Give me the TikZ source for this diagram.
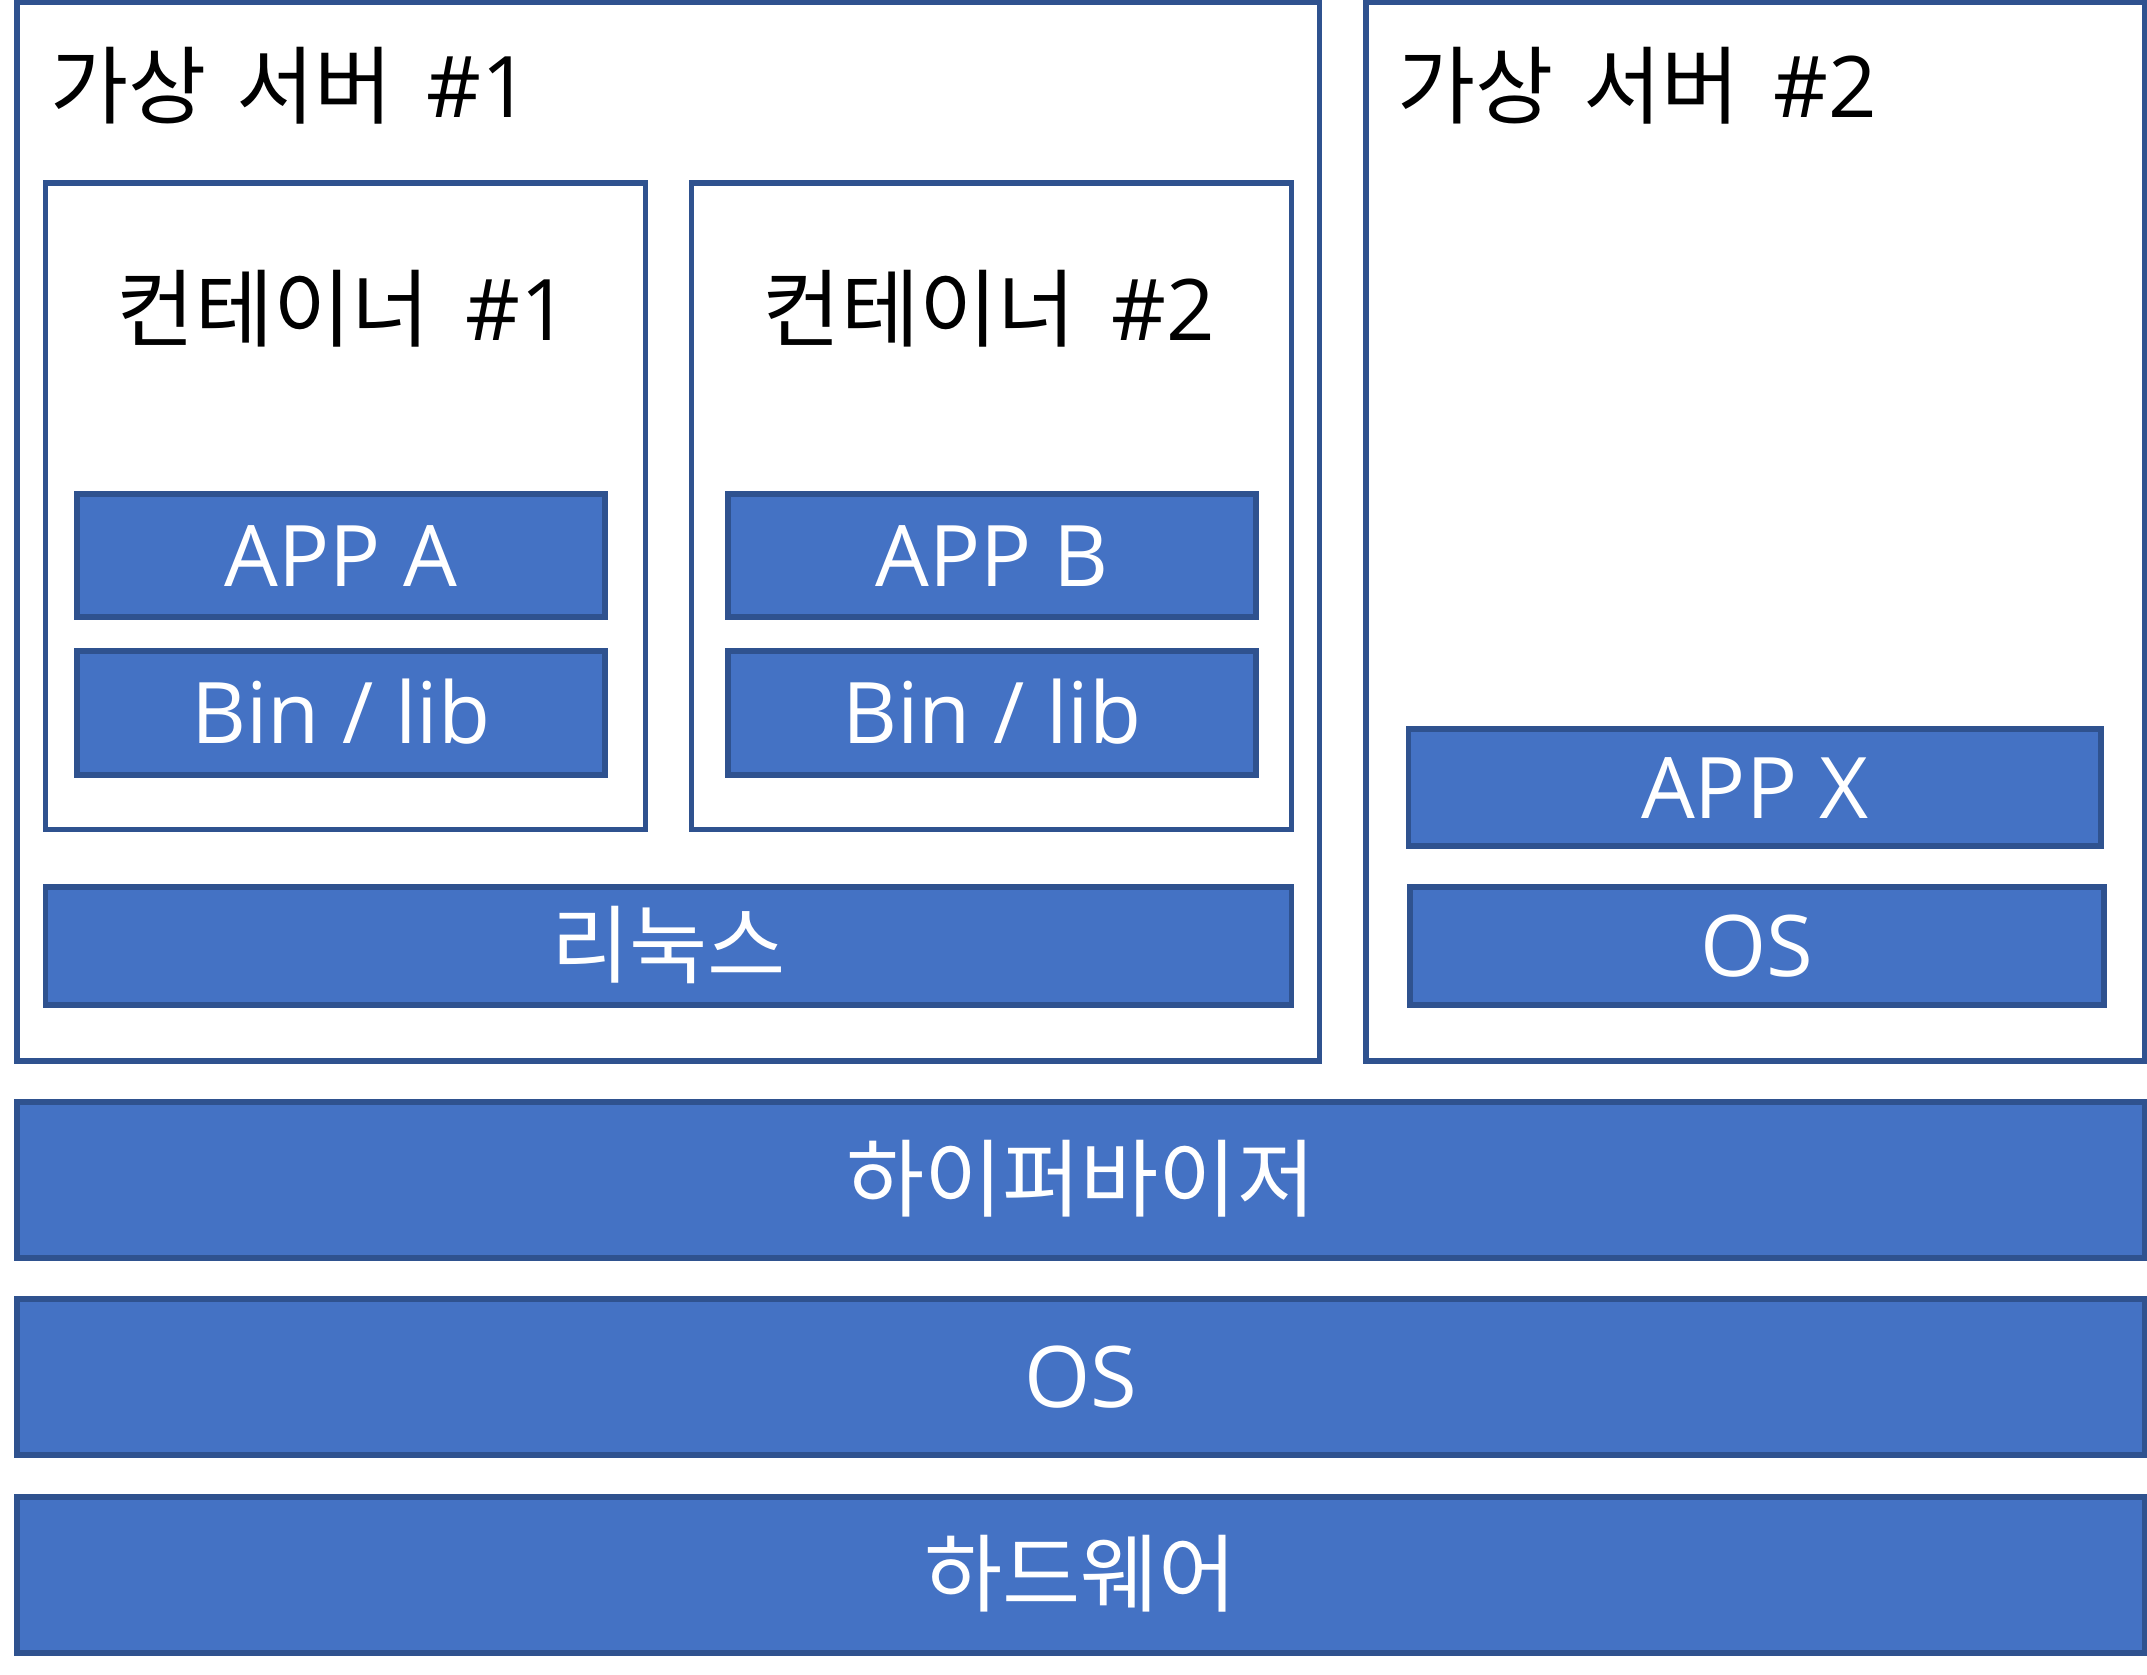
\documentclass[tikz,border=0pt]{standalone}
\usepackage{fontspec}
\setmainfont{Open Sans}
\newfontfamily\kr{Noto Sans CJK KR}
\usetikzlibrary{fit}
\definecolor{fillblue}{HTML}{4472C4}
\definecolor{edgeblue}{HTML}{2F528F}
\begin{document}
\begin{tikzpicture}[x=1pt,y=-1pt,
  every node/.style={inner sep=0pt, outer sep=0pt},
  frame/.style={draw=edgeblue, line width=5.5pt, fill=white},
  layer/.style={draw=edgeblue, line width=5.5pt, fill=fillblue},
  layertext/.style={text=white, font=\fontsize{85}{100}\selectfont,
    text height=61pt, text depth=0pt, anchor=center},
  titletext/.style={text=black, font=\fontsize{85}{100}\selectfont},
]
\useasboundingbox[fill=white] (0,0) rectangle (2147,1674);

% virtual servers
\node[frame, fit={(17,2.5) (1319.5,1061)}] (vm1) {};
\node[frame, fit={(1366,2.5) (2144.5,1061)}] (vm2) {};
\node[titletext, anchor=base west] (vm1t) at (50,117) {{\kr 가상\hspace{30pt}서버}\hspace{34pt}\#1};
\node[titletext, anchor=base west] (vm2t) at (1397,117) {{\kr 가상\hspace{30pt}서버}\hspace{34pt}\#2};

% containers
\node[frame, fit={(45.5,183) (645.5,829.5)}] (c1) {};
\node[frame, fit={(691.5,183) (1291.5,829.5)}] (c2) {};
\node[titletext, anchor=base] (c1t) at (343,340) {{\kr 컨테이너}\hspace{36pt}\#1};
\node[titletext, anchor=base] (c2t) at (989,340) {{\kr 컨테이너}\hspace{36pt}\#2};

% container contents
\node[layer, fit={(77,494) (605,617)}] (appa) {};
\node[layer, fit={(77,651) (605,775)}] (bina) {};
\node[layer, fit={(728,494) (1256,617)}] (appb) {};
\node[layer, fit={(728,651) (1256,775)}] (binb) {};
\node[layertext] (appaT) at (appa.center) {APP A};
\node[layertext] (binaT) at (bina.center) {Bin / lib};
\node[layertext] (appbT) at (appb.center) {APP B};
\node[layertext] (binbT) at (binb.center) {Bin / lib};

% linux
\node[layer, fit={(45.5,887) (1291.5,1005)}] (linux) {};
\node[layertext] (linuxT) at (linux.center) {\kr 리눅스};

% vm2 contents
\node[layer, fit={(1408.5,729) (2101,846)}] (appx) {};
\node[layer, fit={(1410,887) (2104,1005)}] (os2) {};
\node[layertext] (appxT) at (appx.center) {APP X};
\node[layertext] (os2T) at (os2.center) {OS};

% host layers
\node[layer, fit={(17,1102) (2144.5,1258)}] (hyper) {};
\node[layer, fit={(17,1299) (2144.5,1455)}] (os) {};
\node[layer, fit={(17,1497) (2144.5,1653)}] (hw) {};
\node[layertext] (hyperT) at (hyper.center) {\kr 하이퍼바이저};
\node[layertext] (osT) at (os.center) {OS};
\node[layertext] (hwT) at (hw.center) {\kr 하드웨어};
\end{tikzpicture}
\end{document}
